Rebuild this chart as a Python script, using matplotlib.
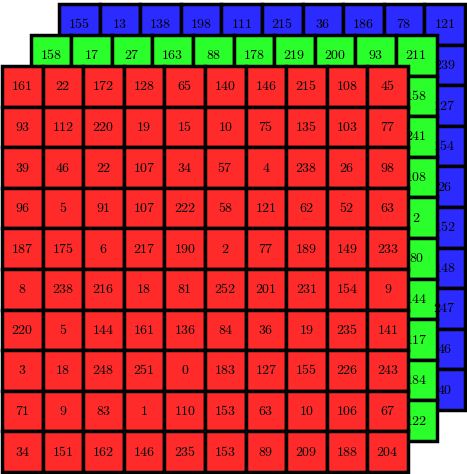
import matplotlib.pyplot as plt
from matplotlib.patches import Rectangle

plt.rcParams['mathtext.fontset'] = 'cm'

red_values = [
    [161, 22, 172, 128, 65, 140, 146, 215, 108, 45],
    [93, 112, 220, 19, 15, 10, 75, 135, 103, 77],
    [39, 46, 22, 107, 34, 57, 4, 238, 26, 98],
    [96, 5, 91, 107, 222, 58, 121, 62, 52, 63],
    [187, 175, 6, 217, 190, 2, 77, 189, 149, 233],
    [8, 238, 216, 18, 81, 252, 201, 231, 154, 9],
    [220, 5, 144, 161, 136, 84, 36, 19, 235, 141],
    [3, 18, 248, 251, 0, 183, 127, 155, 226, 243],
    [71, 9, 83, 1, 110, 153, 63, 10, 106, 67],
    [34, 151, 162, 146, 235, 153, 89, 209, 188, 204],
]
# only the top row and right column of the back layers are visible
green_top = [158, 17, 27, 163, 88, 178, 219, 200, 93, 211]
green_right = [158, 241, 108, 2, 80, 144, 117, 184, 122]
blue_top = [155, 13, 138, 198, 111, 215, 36, 186, 78, 121]
blue_right = [239, 127, 154, 26, 152, 148, 247, 46, 40]

CELL = 40.6
fig = plt.figure(figsize=(4.67, 4.74), dpi=100)
ax = fig.add_axes([0, 0, 1, 1])
ax.set_xlim(0, 467)
ax.set_ylim(474, 0)
ax.axis('off')


def layer(x0, y0, color, values):
    for r in range(10):
        for c in range(10):
            x, y = x0 + c * CELL, y0 + r * CELL
            ax.add_patch(Rectangle((x, y), CELL, CELL, facecolor=color,
                                   edgecolor='black', lw=2.5))
            v = values(r, c)
            if v is not None:
                ax.text(x + CELL / 2, y + CELL / 2, f'${v}$', ha='center',
                        va='center', fontsize=10)


def back(top, right):
    def f(r, c):
        if r == 0:
            return top[c]
        if c == 9:
            return right[r - 1]
        return None
    return f


layer(59, 4, '#2b2bff', back(blue_top, blue_right))
layer(30.5, 35, '#2bff2b', back(green_top, green_right))
layer(2, 66, '#ff2b2b', lambda r, c: red_values[r][c])

fig.savefig('out.png', dpi=100)
